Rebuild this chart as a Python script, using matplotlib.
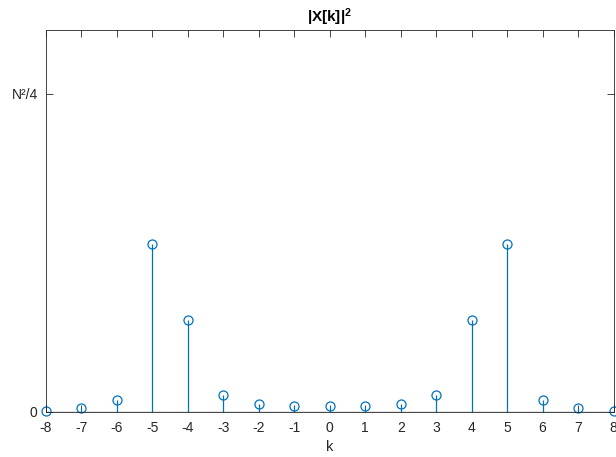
import numpy as np
import matplotlib
matplotlib.use('Agg')
import matplotlib.pyplot as plt

# |X[k]|^2 normalised to N^2/4
k = np.arange(-8, 9)
power = [0.003, 0.012, 0.036, 0.529, 0.290, 0.052, 0.025, 0.019, 0.017,
         0.019, 0.025, 0.052, 0.290, 0.529, 0.036, 0.012, 0.003]
ytick_vals = [0, 1]
ytick_labels = ['0', 'N²/4']

plt.rcParams['font.family'] = ['Liberation Sans', 'DejaVu Sans']
plt.rcParams['axes.unicode_minus'] = False
plt.rcParams['mathtext.fontset'] = 'custom'
plt.rcParams['mathtext.rm'] = 'Liberation Sans'
plt.rcParams['mathtext.bf'] = 'Liberation Sans:bold'

blue = '#0072BD'
axc = '#262626'

fig = plt.figure(figsize=(6.16, 4.57), dpi=100)
ax = fig.add_axes([0.0747, 0.099, 0.9213, 0.835])

ml, sl, bl = ax.stem(k, power, basefmt=' ')
plt.setp(ml, marker='o', markersize=6.5, markerfacecolor='none',
         markeredgecolor=blue, markeredgewidth=0.9, clip_on=False)
plt.setp(sl, color=blue, linewidth=0.9)
ax.axhline(0, color=axc, linewidth=0.9, zorder=1)

ax.set_xlim(-8, 8)
ax.set_ylim(0, 1.2)
ax.set_xticks(k)
ax.set_yticks(ytick_vals)
ax.set_yticklabels(ytick_labels)
ax.tick_params(direction='in', top=True, right=True, length=5, width=0.6,
               colors=axc, labelsize=10)
ax.tick_params(axis='x', pad=7)
ax.tick_params(axis='y', pad=6)
for s in ax.spines.values():
    s.set_color(axc)
    s.set_linewidth(0.6)

ax.set_xlabel('k', fontsize=10.5, color=axc, labelpad=3)
ax.set_title(r'$\mathbf{|X[k]|^2}$', fontsize=11, color='black', pad=6)

fig.savefig('out.png', dpi=100)
